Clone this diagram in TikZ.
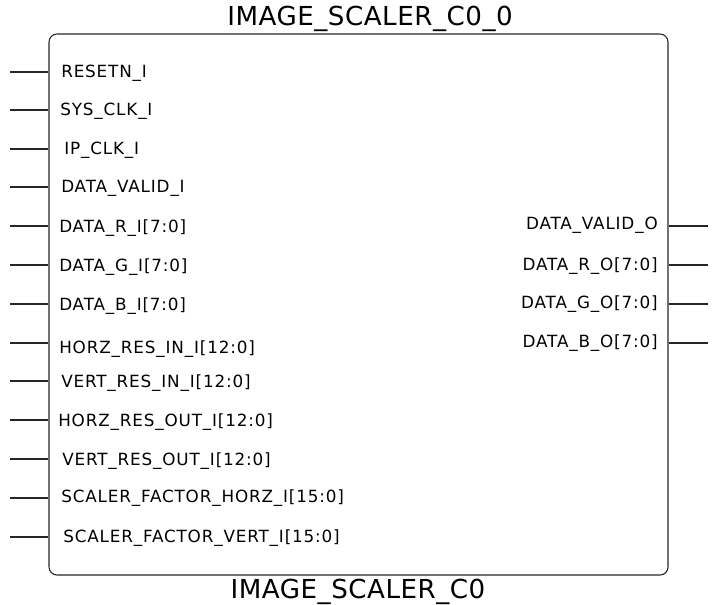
\documentclass[tikz,border=0pt]{standalone}
\usepackage{fontspec}
\setmainfont{DejaVu Sans}[LetterSpace=5]
\begin{document}
\begin{tikzpicture}[x=0.75pt, y=-0.75pt,
    pinline/.style={draw=black!85, line width=0.8pt},
    pinlabel/.style={inner sep=0pt, yshift=-1.2pt, font=\fontsize{12.6}{14}\selectfont},
    title/.style={inner sep=0pt, yshift=-1.5pt, font=\fontsize{19.6}{22}\selectfont\addfontfeature{LetterSpace=2}}]
  \useasboundingbox (0,0) rectangle (716,604);

  \node (box) [draw=black!85, line width=0.8pt, rounded corners=6pt,
    minimum width=464.25pt, minimum height=405.75pt, inner sep=0pt]
    at (358.5,304.5) {};

  \node[title] (top) at (370,17) {IMAGE\_SCALER\_C0\_0};
  \node[title] (bottom) at (358,590) {IMAGE\_SCALER\_C0};

  % inputs
  \coordinate (resetn) at (10,72);
  \coordinate (sysclk) at (10,110);
  \coordinate (ipclk) at (10,149);
  \coordinate (validi) at (10,187);
  \coordinate (ri) at (10,226);
  \coordinate (gi) at (10,265);
  \coordinate (bi) at (10,304);
  \coordinate (horzin) at (10,343);
  \coordinate (vertin) at (10,381);
  \coordinate (horzout) at (10,420);
  \coordinate (vertout) at (10,459);
  \coordinate (facthorz) at (10,498);
  \coordinate (factvert) at (10,537);

  \draw[pinline] (resetn) -- (resetn -| box.west);
  \draw[pinline] (sysclk) -- (sysclk -| box.west);
  \draw[pinline] (ipclk) -- (ipclk -| box.west);
  \draw[pinline] (validi) -- (validi -| box.west);
  \draw[pinline] (ri) -- (ri -| box.west);
  \draw[pinline] (gi) -- (gi -| box.west);
  \draw[pinline] (bi) -- (bi -| box.west);
  \draw[pinline] (horzin) -- (horzin -| box.west);
  \draw[pinline] (vertin) -- (vertin -| box.west);
  \draw[pinline] (horzout) -- (horzout -| box.west);
  \draw[pinline] (vertout) -- (vertout -| box.west);
  \draw[pinline] (facthorz) -- (facthorz -| box.west);
  \draw[pinline] (factvert) -- (factvert -| box.west);

  \node[pinlabel, anchor=west] (resetnl) at (61,72) {RESETN\_I};
  \node[pinlabel, anchor=west] (sysclkl) at (60,110) {SYS\_CLK\_I};
  \node[pinlabel, anchor=west] (ipclkl) at (64,149) {IP\_CLK\_I};
  \node[pinlabel, anchor=west] (validil) at (61,187) {DATA\_VALID\_I};
  \node[pinlabel, anchor=west] (ril) at (59,226) {DATA\_R\_I[7:0]};
  \node[pinlabel, anchor=west] (gil) at (59,265) {DATA\_G\_I[7:0]};
  \node[pinlabel, anchor=west] (bil) at (59,304) {DATA\_B\_I[7:0]};
  \node[pinlabel, anchor=west] (horzinl) at (59,347) {HORZ\_RES\_IN\_I[12:0]};
  \node[pinlabel, anchor=west] (vertinl) at (61,381) {VERT\_RES\_IN\_I[12:0]};
  \node[pinlabel, anchor=west] (horzoutl) at (58,420) {HORZ\_RES\_OUT\_I[12:0]};
  \node[pinlabel, anchor=west] (vertoutl) at (62,459) {VERT\_RES\_OUT\_I[12:0]};
  \node[pinlabel, anchor=west] (facthorzl) at (61,496) {SCALER\_FACTOR\_HORZ\_I[15:0]};
  \node[pinlabel, anchor=west] (factvertl) at (63,536) {SCALER\_FACTOR\_VERT\_I[15:0]};

  % outputs
  \coordinate (valido) at (708,226);
  \coordinate (ro) at (708,265);
  \coordinate (go) at (708,304);
  \coordinate (bo) at (708,343);

  \draw[pinline] (valido -| box.east) -- (valido);
  \draw[pinline] (ro -| box.east) -- (ro);
  \draw[pinline] (go -| box.east) -- (go);
  \draw[pinline] (bo -| box.east) -- (bo);

  \node[pinlabel, anchor=east] (validol) at (658,224) {DATA\_VALID\_O};
  \node[pinlabel, anchor=east] (rol) at (658,264) {DATA\_R\_O[7:0]};
  \node[pinlabel, anchor=east] (gol) at (658,302) {DATA\_G\_O[7:0]};
  \node[pinlabel, anchor=east] (bol) at (658,341) {DATA\_B\_O[7:0]};
\end{tikzpicture}
\end{document}
